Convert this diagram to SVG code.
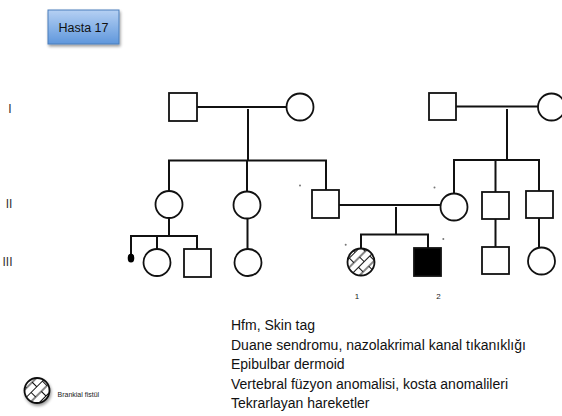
<svg xmlns="http://www.w3.org/2000/svg" width="562" height="416" viewBox="0 0 562 416">
  <defs>
    <linearGradient id="hdrFill" x1="0" y1="0" x2="0" y2="1">
      <stop offset="0" stop-color="#b5d0f3"/>
      <stop offset="1" stop-color="#5f97dc"/>
    </linearGradient>
    <filter id="shadow" x="-20%" y="-20%" width="150%" height="160%">
      <feGaussianBlur in="SourceAlpha" stdDeviation="1.5"/>
      <feOffset dx="1" dy="2" result="b"/>
      <feComponentTransfer><feFuncA type="linear" slope="0.4"/></feComponentTransfer>
      <feMerge><feMergeNode/><feMergeNode in="SourceGraphic"/></feMerge>
    </filter>
    <!-- diagonal brick hatching for the affected-by-fistula symbol -->
    <pattern id="brick" width="16" height="13" patternUnits="userSpaceOnUse" patternTransform="rotate(-45)">
      <rect width="16" height="13" fill="#fff"/>
      <path d="M0 0.5H16M0 7H16M0.5 0.5V7M8.5 7V13.5" stroke="#111" stroke-width="1" fill="none"/>
    </pattern>
  </defs>
  <style>
    .ind { fill: #fff; stroke: #111; stroke-width: 1.8; }
    .aff { fill: #000; stroke: #111; stroke-width: 1.8; }
    .hat { fill: url(#brick); stroke: #111; stroke-width: 1.8; }
    .ln { stroke: #111; stroke-width: 2; fill: none; stroke-linecap: square; }
    .dot { fill: #777; }
    .gen { font-family: "Liberation Sans", Arial, sans-serif; font-size: 12px; fill: #333; text-anchor: middle; }
    .num { font-family: "Liberation Sans", Arial, sans-serif; font-size: 8px; fill: #222; text-anchor: middle; }
    .note { font-family: "Liberation Sans", Arial, sans-serif; font-size: 14px; fill: #111; }
  </style>

  <!-- title box -->
  <g id="title">
    <rect x="48" y="10" width="71" height="34" fill="url(#hdrFill)" stroke="#4a7ebb" stroke-width="1" filter="url(#shadow)"/>
    <text x="83.5" y="31.5" text-anchor="middle" font-family="Liberation Sans, Arial, sans-serif" font-size="12.5" fill="#111">Hasta 17</text>
  </g>

  <!-- generation numerals -->
  <g id="generations">
    <text class="gen" x="10" y="112.5">I</text>
    <text class="gen" x="9" y="207.5">II</text>
    <text class="gen" x="7.5" y="266">III</text>
  </g>

  <!-- connectors -->
  <g id="connectors">
    <path class="ln" d="M197 107H287M248 110V160M169 160.5H326M169 160.5V190M247 160.5V191M326 160.5V190"/>
    <path class="ln" d="M456 106.5H538M507 110V160M454 160H539M454 160V193M495.5 160V192M539 160V191"/>
    <path class="ln" d="M339 205H440M396 208V234.5M361 234.5H428M361 234.5V248M428 234.5V248"/>
    <path class="ln" d="M169 218V236M131 236H197M131 236V254M157 236V249M197 236V249"/>
    <path class="ln" d="M247.5 219V249"/>
    <path class="ln" d="M495.5 219V247M539 218V247"/>
  </g>

  <!-- generation I -->
  <g id="I-1"><rect class="ind" x="169" y="93" width="28" height="28"/></g>
  <g id="I-2"><circle class="ind" cx="300" cy="107" r="13.5"/></g>
  <g id="I-3"><rect class="ind" x="429" y="93" width="27" height="27"/></g>
  <g id="I-4"><circle class="ind" cx="551.5" cy="107" r="13.5"/></g>

  <!-- generation II -->
  <g id="II-1"><circle class="ind" cx="169" cy="204.5" r="13.5"/></g>
  <g id="II-2"><circle class="ind" cx="247" cy="205" r="13.5"/></g>
  <g id="II-3"><rect class="ind" x="312" y="190" width="27" height="28"/><circle class="dot" cx="300" cy="185.5" r="1"/></g>
  <g id="II-4"><circle class="ind" cx="454" cy="207" r="13.5"/><circle class="dot" cx="434.5" cy="187.5" r="1"/></g>
  <g id="II-5"><rect class="ind" x="482" y="192" width="27" height="27"/></g>
  <g id="II-6"><rect class="ind" x="526" y="191" width="27" height="27"/></g>

  <!-- generation III -->
  <g id="III-1"><ellipse cx="131" cy="258" rx="3.3" ry="4.5" fill="#000"/></g>
  <g id="III-2"><circle class="ind" cx="157" cy="262.5" r="13.5"/></g>
  <g id="III-3"><rect class="ind" x="184" y="249" width="27" height="28"/></g>
  <g id="III-4"><circle class="ind" cx="248" cy="262.5" r="13.5"/></g>
  <g id="III-5">
    <circle class="hat" cx="361" cy="262" r="13.5"/>
    <circle class="dot" cx="345.7" cy="244.7" r="1"/>
    <text class="num" x="357" y="299">1</text>
  </g>
  <g id="III-6">
    <rect class="aff" x="414" y="248" width="27" height="28"/>
    <circle class="dot" cx="443.3" cy="239" r="1"/>
    <text class="num" x="438.5" y="299">2</text>
  </g>
  <g id="III-7"><rect class="ind" x="482" y="247" width="27" height="27"/></g>
  <g id="III-8"><circle class="ind" cx="541.5" cy="261" r="13.5"/></g>

  <!-- legend -->
  <g id="legend">
    <circle class="hat" cx="37" cy="390.5" r="12.5" filter="url(#shadow)"/>
    <text x="57.5" y="397" font-family="Liberation Sans, Arial, sans-serif" font-size="7" fill="#222">Brankial fistül</text>
  </g>

  <!-- clinical findings -->
  <g id="findings">
    <text class="note" x="231" y="330">Hfm, Skin tag</text>
    <text class="note" x="231" y="349.5">Duane sendromu, nazolakrimal kanal tıkanıklığı</text>
    <text class="note" x="231" y="369">Epibulbar dermoid</text>
    <text class="note" x="231" y="388.5">Vertebral füzyon anomalisi, kosta anomalileri</text>
    <text class="note" x="231" y="408">Tekrarlayan hareketler</text>
  </g>
</svg>
